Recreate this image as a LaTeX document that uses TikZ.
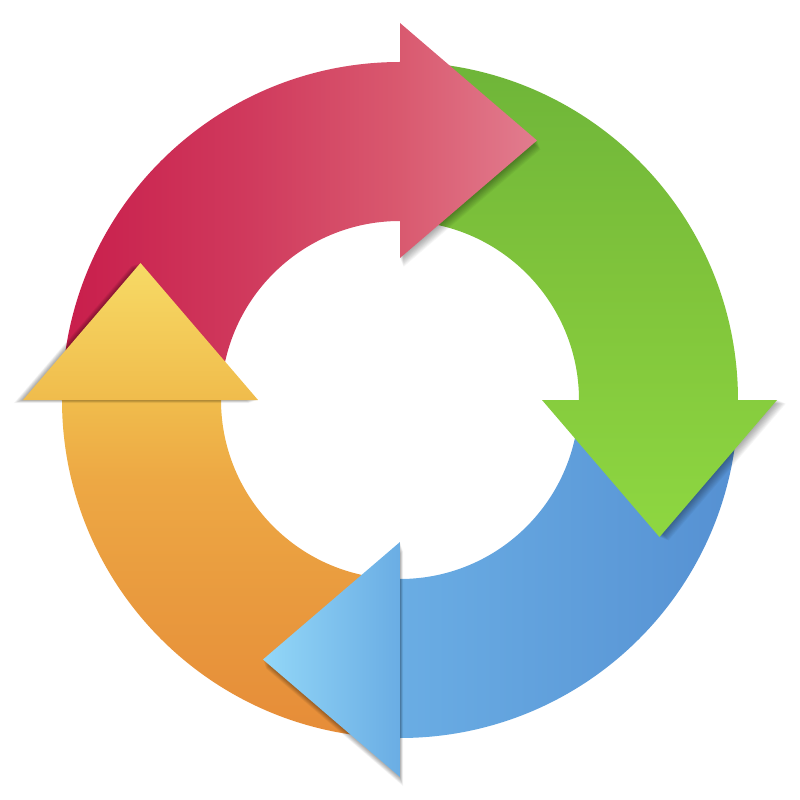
\documentclass[tikz,border=0pt]{standalone}
\definecolor{redA}{HTML}{C81D4B}
\definecolor{redM}{HTML}{D03A5D}
\definecolor{redN}{HTML}{D9596F}
\definecolor{redB}{HTML}{E27D8F}
\definecolor{grnA}{HTML}{6EB539}
\definecolor{grnM}{HTML}{80C43B}
\definecolor{grnB}{HTML}{8ED741}
\definecolor{bluA}{HTML}{94D8F8}
\definecolor{bluM}{HTML}{6AADE4}
\definecolor{bluB}{HTML}{5590D2}
\definecolor{orgA}{HTML}{E68C38}
\definecolor{orgM}{HTML}{E99A3E}
\definecolor{orgN}{HTML}{EDA844}
\definecolor{orgO}{HTML}{F0BC4C}
\definecolor{orgB}{HTML}{F7DB66}
\pgfdeclarehorizontalshading{redsh}{100bp}{color(0bp)=(redA); color(25bp)=(redA); color(44.8bp)=(redM); color(60.4bp)=(redN); color(75bp)=(redB); color(100bp)=(redB)}
\pgfdeclareverticalshading{grnsh}{100bp}{color(0bp)=(grnB); color(25bp)=(grnB); color(52bp)=(grnM); color(75bp)=(grnA); color(100bp)=(grnA)}
\pgfdeclarehorizontalshading{blush}{100bp}{color(0bp)=(bluA); color(25bp)=(bluA); color(39.6bp)=(bluM); color(75bp)=(bluB); color(100bp)=(bluB)}
\pgfdeclareverticalshading{orgsh}{100bp}{color(0bp)=(orgA); color(25bp)=(orgA); color(39.6bp)=(orgM); color(52bp)=(orgN); color(60.4bp)=(orgO); color(75bp)=(orgB); color(100bp)=(orgB)}
\tikzset{shadowstep/.style={fill=black, opacity=0.035}}
\begin{document}
\begin{tikzpicture}[x=0.01cm,y=0.01cm]
\def\Ro{338}\def\Ri{179}
\fill[white] (-400,-400) rectangle (400,400);
\useasboundingbox (-400,-400) rectangle (400,400);
% ---------- bodies ----------
\begin{scope}
\clip (180:\Ro) arc[start angle=180,end angle=90,radius=\Ro] -- (90:\Ri) arc[start angle=90,end angle=180,radius=\Ri] -- cycle;
\shade[shading=redsh] (-340,-10) rectangle (140,380);
\end{scope}
\begin{scope}
\clip (90:\Ro) arc[start angle=90,end angle=0,radius=\Ro] -- (0:\Ri) arc[start angle=0,end angle=90,radius=\Ri] -- cycle;
\shade[shading=grnsh] (-10,-140) rectangle (380,340);
\end{scope}
\begin{scope}
\clip (0:\Ro) arc[start angle=0,end angle=-90,radius=\Ro] -- (-90:\Ri) arc[start angle=-90,end angle=0,radius=\Ri] -- cycle;
\shade[shading=blush] (-140,-380) rectangle (340,10);
\end{scope}
\begin{scope}
\clip (-90:\Ro) arc[start angle=-90,end angle=-180,radius=\Ro] -- (180:\Ri) arc[start angle=180,end angle=270,radius=\Ri] -- cycle;
\shade[shading=orgsh] (-380,-340) rectangle (10,140);
\end{scope}
% ---------- heads with soft shadows ----------
% red head
\foreach \i in {1,...,10}
  \fill[shadowstep, shift={(0.35*\i,-0.9*\i)}] (0,142) -- (0,377) -- (137,259.5) -- cycle;
\begin{scope}
\clip (0,142) -- (0,377) -- (137,259.5) -- cycle;
\shade[shading=redsh] (-340,-10) rectangle (140,380);
\end{scope}
% green head
\foreach \i in {1,...,10}
  \fill[shadowstep, shift={(0.9*\i,-0.35*\i)}] (142,0) -- (377,0) -- (259.5,-137) -- cycle;
\begin{scope}
\clip (142,0) -- (377,0) -- (259.5,-137) -- cycle;
\shade[shading=grnsh] (-10,-140) rectangle (380,340);
\end{scope}
% blue head
\foreach \i in {1,...,10}
  \fill[shadowstep, shift={(0.3*\i,-0.9*\i)}] (0,-142) -- (0,-377) -- (-137,-259.5) -- cycle;
\begin{scope}
\clip (0,-142) -- (0,-377) -- (-137,-259.5) -- cycle;
\shade[shading=blush] (-140,-380) rectangle (340,10);
\end{scope}
% orange head
\foreach \i in {1,...,10}
  \fill[shadowstep, shift={(-0.9*\i,-0.3*\i)}] (-142,0) -- (-377,0) -- (-259.5,137) -- cycle;
\begin{scope}
\clip (-142,0) -- (-377,0) -- (-259.5,137) -- cycle;
\shade[shading=orgsh] (-380,-340) rectangle (10,140);
\end{scope}
\end{tikzpicture}
\end{document}
